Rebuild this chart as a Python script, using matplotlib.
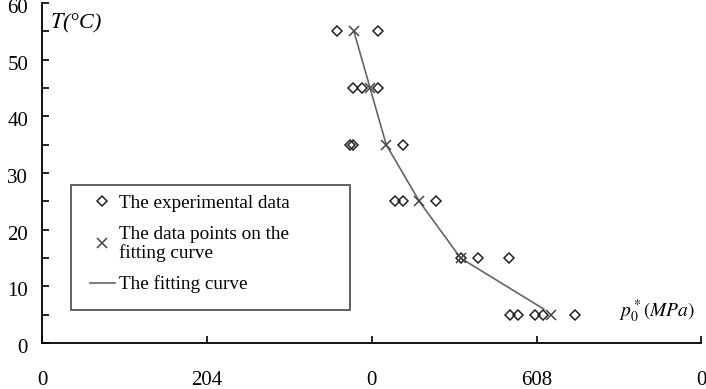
import matplotlib
matplotlib.use("Agg")
import matplotlib.pyplot as plt
import matplotlib.transforms as mtransforms
from matplotlib.lines import Line2D
from matplotlib.patches import Rectangle

plt.rcParams['font.family'] = ['Liberation Serif', 'DejaVu Serif']
plt.rcParams['mathtext.fontset'] = 'stix'

# experimental data (pressure, temperature)
exp_p = [365, 416, 385, 396, 416, 381, 385, 447, 437, 447, 487,
         518, 539, 578, 579, 589, 610, 620, 660]
exp_T = [55, 55, 45, 45, 45, 35, 35, 35, 25, 25, 25,
         15, 15, 15, 5, 5, 5, 5, 5]

# points on the fitting curve
fit_p = [386, 406, 426, 467, 518, 630]
fit_T = [55, 45, 35, 25, 15, 5]

# fitting curve
curve_p = [386, 406, 426, 467, 518, 621]
curve_T = [55, 45, 35, 25, 15, 6]

x_ticks = [0, 204, 408, 612, 816]
x_labels = ["0", "204", "0", "608", "0"]
y_ticks = [0, 10, 20, 30, 40, 50, 60]

fig = plt.figure(figsize=(7.06, 3.89), dpi=100)
ax = fig.add_axes([0.0595, 0.118, 0.934, 0.874])

ax.plot(curve_p, curve_T, color='#666666', lw=1.2, zorder=2)
ax.plot(exp_p, exp_T, 'D', ms=5, mfc='none', mec='#222222', mew=1.1, zorder=3)
ax.plot(fit_p, fit_T, 'x', ms=7, color='#444444', mew=1.1, zorder=3)

ax.set_xlim(0, 816)
ax.set_ylim(0, 60)
ax.set_xticks(x_ticks)
ax.set_xticklabels(x_labels)
ax.set_yticks(y_ticks)
ax.set_yticks([5, 15, 25, 35, 45, 55], minor=True)
ax.tick_params(axis='both', direction='in', labelsize=15, length=5, width=1.2)
ax.tick_params(axis='y', which='minor', direction='in', length=5, width=1.2)
ax.tick_params(axis='x', pad=20)
ax.tick_params(axis='y', pad=10)
# y labels sit a little below their ticks, as in the original
shift = mtransforms.ScaledTranslation(0, -3 / 100, fig.dpi_scale_trans)
for lab in ax.get_yticklabels():
    lab.set_transform(lab.get_transform() + shift)

ax.spines['top'].set_visible(False)
ax.spines['right'].set_visible(False)
ax.spines['left'].set_linewidth(1.3)
ax.spines['bottom'].set_linewidth(1.3)

ax.text(0.012, 0.975, "$T$(°C)", transform=ax.transAxes, fontsize=16,
        ha='left', va='top', style='italic')
ax.text(0.99, 0.095, r"$p_0^*(MPa)$", transform=ax.transAxes, fontsize=14,
        ha='right', va='center')

# legend box
ax.add_patch(Rectangle((0.044, 0.097), 0.423, 0.368, transform=ax.transAxes,
                       fill=True, facecolor='white', edgecolor='#555555',
                       lw=1.3, zorder=4))

handles = [
    Line2D([], [], ls='none', marker='D', ms=5, mfc='none', mec='#222222', mew=1.1),
    Line2D([], [], ls='none', marker='x', ms=7, color='#444444', mew=1.1),
    Line2D([], [], color='#666666', lw=1.2),
]
labels = ["The experimental data", "The data points on the\nfitting curve",
          "The fitting curve"]
leg = ax.legend(handles, labels, loc='upper left',
                bbox_to_anchor=(0.0728, 0.437),
                fontsize=13.8, frameon=False, handlelength=1.3, handletextpad=0.2,
                labelspacing=0.72, borderpad=0, borderaxespad=0)
leg.set_zorder(5)
for t in leg.get_texts():
    t.set_linespacing(1.07)

fig.savefig("out.png", dpi=100)
